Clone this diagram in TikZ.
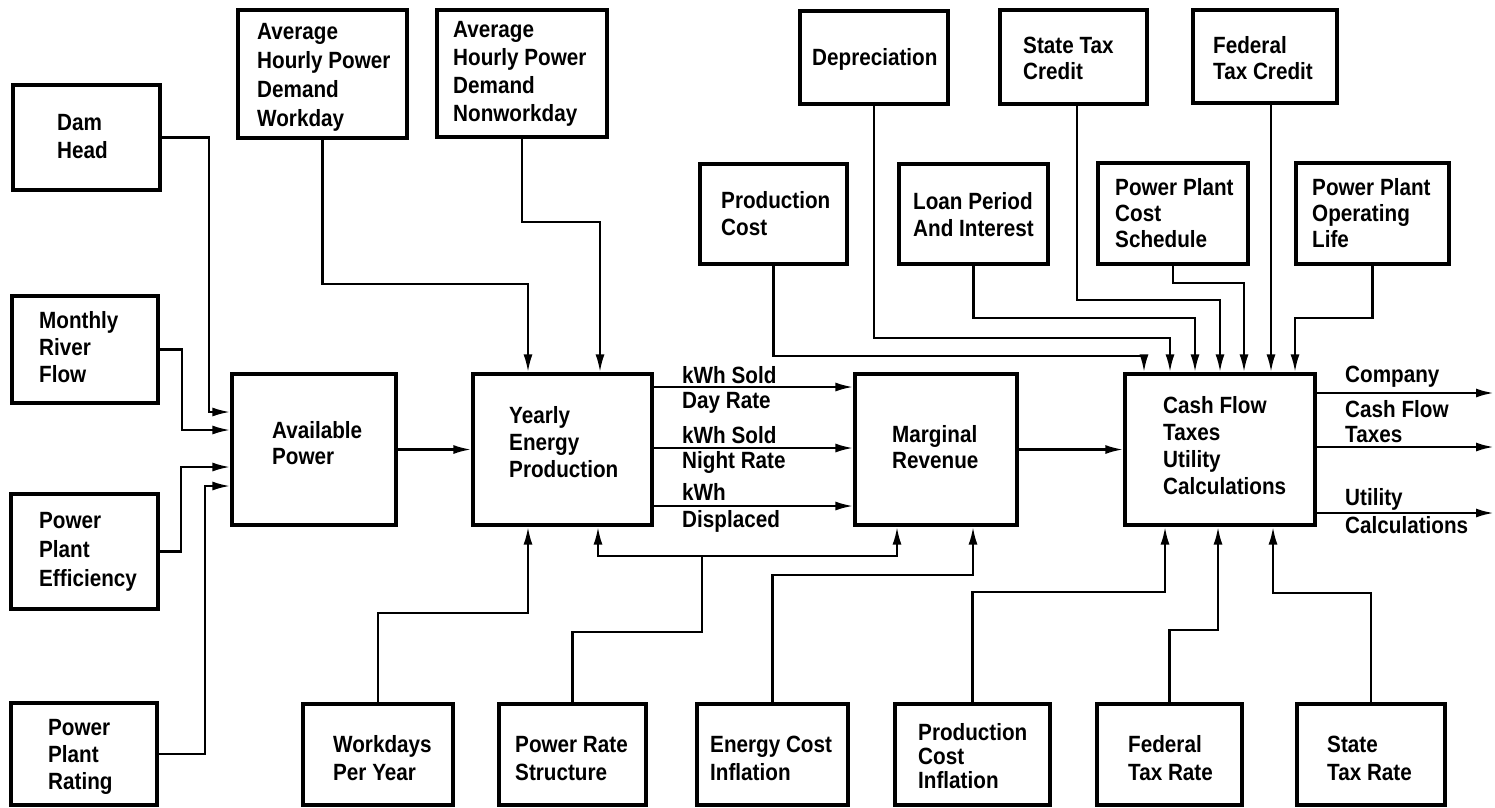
\documentclass[tikz,border=0pt]{standalone}
\usepackage{fontspec}
\newfontfamily\lfont{Liberation Sans}[FakeStretch=0.88]
\usetikzlibrary{arrows.meta,fit}
\tikzset{
  bx/.style={draw, line width=3.2pt, rectangle, inner sep=0pt},
  txt/.style={inner sep=0pt, font=\lfont\bfseries},
  conn/.style={line width=2.5pt},
  arr/.style={conn, -{Latex[length=18pt,width=9pt]}}
}
\newcommand\mytext[5]{\node[txt,anchor=base west] (#1) at (#2,#3) {\fontsize{23.5}{#4}\selectfont\begin{tabular}[t]{@{}l@{}}#5\end{tabular}};}
\newcommand\mybox[5]{\node[bx, fit={(#2,#3) (#4,#5)}] (#1) {};}
\begin{document}
\begin{tikzpicture}[x=1pt,y=-1pt]
\useasboundingbox (0,0) rectangle (1495,807);
% boxes
\mybox{dam}{13}{85}{160}{190}
\mybox{mrf}{12}{296}{158}{403}
\mybox{eff}{11}{494}{158}{609}
\mybox{rat}{11}{703}{157}{805}
\mybox{wd}{238}{10}{407}{138}
\mybox{nwd}{437}{10}{607}{137}
\mybox{avail}{232}{374}{396}{525}
\mybox{yearly}{473}{374}{652}{525}
\mybox{marg}{855}{374}{1017}{525}
\mybox{cash}{1125}{374}{1315}{525}
\mybox{dep}{800}{11}{948}{104}
\mybox{pc}{700}{164}{847}{264}
\mybox{loan}{899}{164}{1048}{264}
\mybox{stc}{1000}{10}{1147}{104}
\mybox{ftc}{1193}{10}{1337}{103}
\mybox{pcs}{1098}{163}{1248}{264}
\mybox{pol}{1296}{163}{1449}{264}
\mybox{wpy}{303}{704}{453}{805}
\mybox{prs}{499}{704}{646}{805}
\mybox{eci}{697}{704}{848}{805}
\mybox{pci}{895}{704}{1050}{805}
\mybox{ftr}{1097}{704}{1242}{805}
\mybox{str}{1297}{704}{1445}{805}
% texts
\mytext{damT}{57}{130}{28}{Dam\\Head}
\mytext{mrfT}{39}{328}{27}{Monthly\\River\\Flow}
\mytext{effT}{39}{528}{29}{Power\\Plant\\Efficiency}
\mytext{ratT}{48}{735}{27}{Power\\Plant\\Rating}
\mytext{wdT}{257}{39}{29}{Average\\Hourly Power\\Demand\\Workday}
\mytext{nwdT}{453}{37}{28}{Average\\Hourly Power\\Demand\\Nonworkday}
\mytext{availT}{272}{438}{26}{Available\\Power}
\mytext{yearlyT}{509}{423}{27}{Yearly\\Energy\\Production}
\mytext{margT}{892}{442}{26}{Marginal\\Revenue}
\mytext{cashT}{1163}{413}{27}{Cash Flow\\Taxes\\Utility\\Calculations}
\mytext{depT}{812}{65}{27}{Depreciation}
\mytext{pcT}{721}{208}{27}{Production\\Cost}
\mytext{loanT}{913}{209}{27}{Loan Period\\And Interest}
\mytext{stcT}{1023}{53}{26}{State Tax\\Credit}
\mytext{ftcT}{1213}{53}{26}{Federal\\Tax Credit}
\mytext{pcsT}{1115}{195}{26}{Power Plant\\Cost\\Schedule}
\mytext{polT}{1312}{195}{26}{Power Plant\\Operating\\Life}
\mytext{wpyT}{333}{752}{28}{Workdays\\Per Year}
\mytext{prsT}{515}{752}{28}{Power Rate\\Structure}
\mytext{eciT}{710}{752}{28}{Energy Cost\\Inflation}
\mytext{pciT}{918}{740}{24}{Production\\Cost\\Inflation}
\mytext{ftrT}{1128}{752}{28}{Federal\\Tax Rate}
\mytext{strT}{1327}{752}{28}{State\\Tax Rate}
% flow labels
\mytext{l1}{682}{383}{25}{kWh Sold}
\mytext{l2}{682}{408}{25}{Day Rate}
\mytext{l3}{682}{443}{25}{kWh Sold}
\mytext{l4}{682}{468}{25}{Night Rate}
\mytext{l5}{682}{500}{25}{kWh}
\mytext{l6}{682}{527}{25}{Displaced}
\mytext{o1T}{1345}{382}{25}{Company}
\mytext{o2T}{1345}{417}{25}{Cash Flow}
\mytext{o3T}{1345}{442}{25}{Taxes}
\mytext{o4T}{1345}{505}{25}{Utility}
\mytext{o5T}{1345}{533}{25}{Calculations}
% free ends
\coordinate (e1) at (1494,393);
\coordinate (e2) at (1494,447);
\coordinate (e3) at (1494,513);
\coordinate (j1) at (702,556);
% connectors into Available Power
\draw[arr] (dam.east) -| (209,412) -- (avail.west |- 0,412);
\draw[arr] (mrf.east) -| (182,430) -- (avail.west |- 0,430);
\draw[arr] (eff.east) -| (181,467) -- (avail.west |- 0,467);
\draw[arr] (rat.east) -| (205,486) -- (avail.west |- 0,486);
\draw[arr] (avail.east) -- (yearly.west);
% into Yearly
\draw[arr] (wd.south) |- (528,284) -- (yearly.north -| 528,0);
\draw[arr] (nwd.south) |- (600,222) -- (yearly.north -| 600,0);
\draw[arr] (wpy.north) |- (528,613) -- (yearly.south -| 528,0);
\draw[conn] (prs.north) |- (702,632) -- (j1);
\draw[arr] (j1) -| (yearly.south -| 598,0);
\draw[arr] (j1) -| (marg.south -| 897,0);
% Yearly to Marginal
\draw[arr] (yearly.east |- 0,387) -- (marg.west |- 0,387);
\draw[arr] (yearly.east |- 0,448) -- (marg.west |- 0,448);
\draw[arr] (yearly.east |- 0,506) -- (marg.west |- 0,506);
\draw[arr] (eci.north) |- (973,575) -- (marg.south -| 973,0);
% Marginal to Cash
\draw[arr] (marg.east) -- (cash.west);
% into Cash from top
\draw[arr] (pc.south) |- (1144,356) -- (cash.north -| 1144,0);
\draw[arr] (dep.south) |- (1170,338) -- (cash.north -| 1170,0);
\draw[arr] (loan.south) |- (1195,318) -- (cash.north -| 1195,0);
\draw[arr] (stc.south -| 1077,0) |- (1220,300) -- (cash.north -| 1220,0);
\draw[arr] (pcs.south) |- (1244,283) -- (cash.north -| 1244,0);
\draw[arr] (ftc.south -| 1271,0) -- (cash.north -| 1271,0);
\draw[arr] (pol.south) |- (1295,318) -- (cash.north -| 1295,0);
% into Cash from bottom
\draw[arr] (pci.north) |- (1165,592) -- (cash.south -| 1165,0);
\draw[arr] (ftr.north) |- (1218,630) -- (cash.south -| 1218,0);
\draw[arr] (str.north) |- (1273,593) -- (cash.south -| 1273,0);
% outputs
\draw[arr] (cash.east |- 0,393) -- (e1);
\draw[arr] (cash.east |- 0,447) -- (e2);
\draw[arr] (cash.east |- 0,513) -- (e3);
\end{tikzpicture}
\end{document}
